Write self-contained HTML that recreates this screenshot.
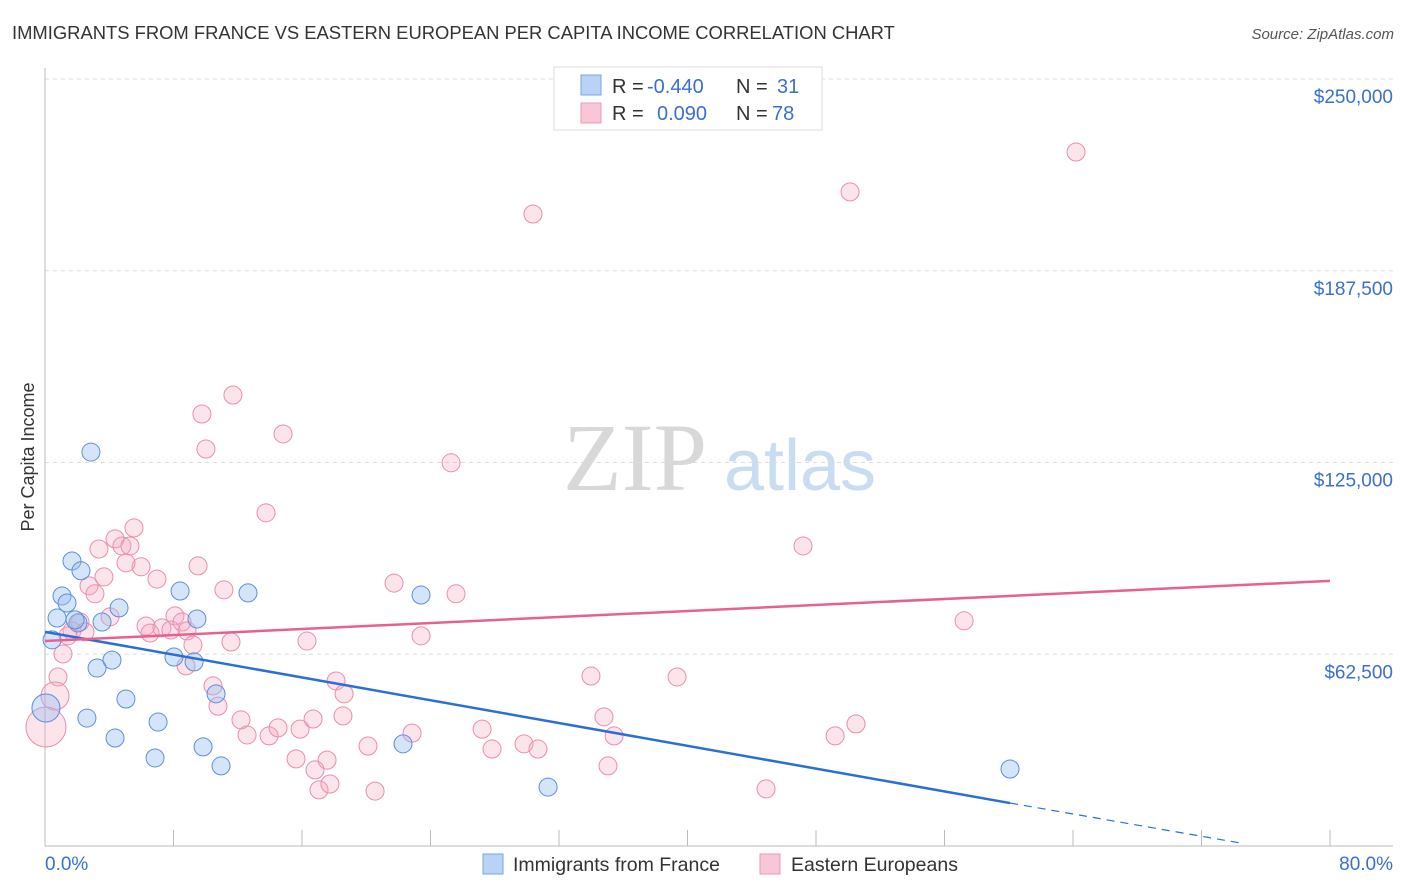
<!DOCTYPE html>
<html><head><meta charset="utf-8"><style>
body{margin:0;background:#fff;font-family:"Liberation Sans",sans-serif;}
#wrap{position:relative;width:1406px;height:892px;overflow:hidden;}
</style></head><body>
<div id="wrap">
<svg id="svg" width="1406" height="892" xmlns="http://www.w3.org/2000/svg" font-family="Liberation Sans, sans-serif">
<text x="12" y="39" font-size="18.4" fill="#333">IMMIGRANTS FROM FRANCE VS EASTERN EUROPEAN PER CAPITA INCOME CORRELATION CHART</text>
<text x="1394" y="39" font-size="15" fill="#555" font-style="italic" text-anchor="end">Source: ZipAtlas.com</text>
<text x="34" y="457" font-size="18" fill="#333" text-anchor="middle" transform="rotate(-90 34 457)">Per Capita Income</text>
<g>
<text x="635" y="490" font-size="96" fill="#d8d8d8" font-family="Liberation Serif, serif" text-anchor="middle">ZIP</text>
<text x="800" y="490" font-size="72" fill="#c8dcf2" text-anchor="middle">atlas</text>
</g>
<g id="grid"></g>
<g id="axes"></g>
<g id="marks"></g>
<g id="lines"></g>
<g>
<rect x="554" y="67" width="268" height="63" fill="#fff" stroke="#ddd"/>
<rect x="581" y="75" width="20" height="20" fill="#b8d3f5" stroke="#7aa6e0"/>
<rect x="581" y="103" width="20" height="20" fill="#f9c6d5" stroke="#ec9ab5"/>
<text x="612" y="93" font-size="20" fill="#333">R = </text><text x="647" y="93" font-size="20" fill="#3a6fd0">-0.440</text>
<text x="736" y="93" font-size="20" fill="#333">N = </text><text x="777" y="93" font-size="20" fill="#3a6fd0">31</text>
<text x="612" y="120" font-size="20" fill="#333">R = </text><text x="657" y="120" font-size="20" fill="#3a6fd0">0.090</text>
<text x="736" y="120" font-size="20" fill="#333">N = </text><text x="772" y="120" font-size="20" fill="#3a6fd0">78</text>
</g>
<g>
<rect x="483" y="854" width="20" height="20" fill="#b8d3f5" stroke="#7aa6e0"/>
<text x="513" y="871" font-size="19.5" fill="#333">Immigrants from France</text>
<rect x="760" y="854" width="20" height="20" fill="#f9c6d5" stroke="#ec9ab5"/>
<text x="791" y="871" font-size="19.5" fill="#333">Eastern Europeans</text>
</g>
<text x="45" y="870" font-size="19" fill="#3a6fd0">0.0%</text>
<text x="1393" y="870" font-size="19" fill="#3a6fd0" text-anchor="end">80.0%</text>
</svg>
</div>
<script>
const yTicks=[62500,125000,187500,250000];
const yTickLabels=["$62,500","$125,000","$187,500","$250,000"];
const franceX=[2.86,1.68,2.24,1.06,1.37,0.75,3.55,2.05,4.61,8.41,9.46,12.64,23.41,0.44,4.17,3.24,8.03,9.28,5.04,10.65,0.06,2.61,7.04,4.36,9.84,6.85,10.96,22.29,31.32,60.08,1.87];
const franceY=[128.4,92.9,89.7,81.5,79.2,74.3,73.0,72.7,77.6,83.1,74.0,82.5,81.8,67.2,60.6,58.0,61.6,60.0,47.9,49.6,45.0,41.7,40.4,35.2,32.3,28.7,26.1,33.3,19.2,25.1,73.7];
const franceBig=[20];
const eastX=[30.38,64.19,50.12,11.70,9.77,10.02,14.82,25.28,13.76,5.54,4.36,3.36,4.79,5.29,5.98,5.04,9.53,6.97,3.67,2.74,3.11,11.14,21.73,25.59,47.19,4.05,2.18,6.29,7.28,8.09,7.84,8.53,6.54,8.84,9.21,1.68,2.49,1.43,1.12,11.58,16.31,23.41,57.22,8.78,18.12,18.62,33.99,39.35,0.81,0.62,0.06,10.46,10.77,12.20,12.58,13.95,14.51,15.88,16.69,18.55,15.63,17.56,16.81,17.06,17.74,20.11,20.55,22.85,27.21,27.83,29.82,30.69,34.80,35.43,35.05,44.89,49.19,50.49];
const eastY=[206.0,226.2,213.2,147.0,140.8,129.4,134.3,124.9,108.6,103.7,100.1,96.8,97.8,97.8,91.0,92.3,91.3,87.0,87.7,84.8,82.2,83.5,85.7,82.2,97.8,74.7,73.0,71.7,71.1,75.0,70.4,73.0,69.4,70.1,65.5,70.1,69.8,68.5,62.6,66.5,66.8,68.5,73.4,58.7,53.8,49.6,55.4,55.1,55.1,48.9,38.8,52.2,45.6,41.1,36.2,35.9,38.5,38.1,41.4,42.4,28.4,28.0,24.8,18.3,20.2,32.6,17.9,36.8,38.1,31.6,33.3,31.6,42.1,35.9,26.1,18.6,35.9,39.8];
const eastBig=[49,50];
const franceTrend=[[0,69.8],[60.08,14.0],[74.4,1.0]];
const eastTrend=[[0,66.8],[80,86.4]];
const NS="http://www.w3.org/2000/svg";
const X=v=>45+v/80*1285;
const Y=v=>846-v/250000*767;
const Yk=v=>Y(v*1000);
function mk(tag,attrs,parent){const e=document.createElementNS(NS,tag);for(const k in attrs)e.setAttribute(k,attrs[k]);parent.appendChild(e);return e;}
const grid=document.getElementById('grid'),axes=document.getElementById('axes'),marks=document.getElementById('marks'),lines=document.getElementById('lines');
yTicks.forEach((t,i)=>{
 const l=mk('line',{x1:45,x2:1393,y1:Y(t),y2:Y(t),stroke:'#ddd','stroke-dasharray':'4,4'},grid);
 
 
 const tx=mk('text',{x:1393,y:Y(t)+24,'font-size':19,fill:'#3a6fd0','text-anchor':'end'},grid);
 tx.textContent=yTickLabels[i];
 
 
});
const xa=mk('line',{x1:45,x2:1393,y1:846,y2:846,stroke:'#bbb'},axes);


const ya=mk('line',{x1:45,x2:45,y1:68,y2:846,stroke:'#bbb'},axes);


for(let i=1;i<=10;i++){
 const t=mk('line',{x1:X(i*8),x2:X(i*8),y1:830,y2:846,stroke:'#bbb'},axes);
 
 
}
eastX.forEach((x,i)=>{
 const r=eastBig.includes(i)?(i===50?20:14):9;
 const c=mk('circle',{cx:X(x),cy:Yk(eastY[i]),r:r,fill:'rgba(245,165,190,0.3)',stroke:'#eb8dad','stroke-width':1},marks);
 
 
});
franceX.forEach((x,i)=>{
 const r=franceBig.includes(i)?14:9;
 const c=mk('circle',{cx:X(x),cy:Yk(franceY[i]),r:r,fill:'rgba(150,190,240,0.4)',stroke:'#5b8fd9','stroke-width':1},marks);
 
 
});
const b1=mk('line',{x1:X(franceTrend[0][0]),y1:Yk(franceTrend[0][1]),x2:X(franceTrend[1][0]),y2:Yk(franceTrend[1][1]),stroke:'#2a6fd6','stroke-width':2.5},lines);


const b2=mk('line',{x1:X(franceTrend[1][0]),y1:Yk(franceTrend[1][1]),x2:X(franceTrend[2][0]),y2:Yk(franceTrend[2][1]),stroke:'#2a6fd6','stroke-width':1.2,'stroke-dasharray':'8,6'},lines);


const p1=mk('line',{x1:X(eastTrend[0][0]),y1:Yk(eastTrend[0][1]),x2:X(eastTrend[1][0]),y2:Yk(eastTrend[1][1]),stroke:'#e8618e','stroke-width':2.5},lines);


</script>
</body></html>
